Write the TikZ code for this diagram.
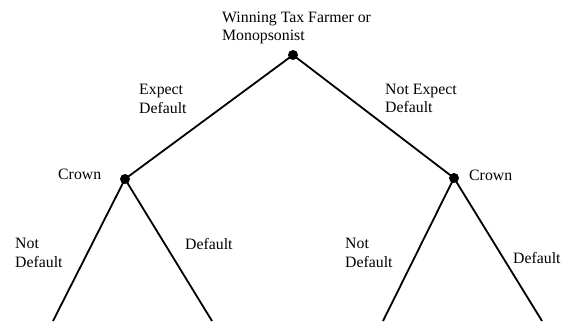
\documentclass[tikz,border=0pt]{standalone}
\usepackage{fontspec}
\setmainfont{Liberation Serif}
\begin{document}
\begin{tikzpicture}[x=1pt,y=-1pt,
  edge/.style={line width=1.8pt},
  dot/.style={circle,fill=black,inner sep=0pt,minimum size=10pt},
  lbl/.style={anchor=north west,inner sep=0pt,align=left,font=\fontsize{15.8}{18.5}\selectfont}]
\useasboundingbox (0,0) rectangle (570,326);
\node[dot] (r) at (293,55) {};
\node[dot] (a) at (125,179) {};
\node[dot] (b) at (454,178) {};
\coordinate (a1) at (53,321);
\coordinate (a2) at (212,321);
\coordinate (b1) at (383,321);
\coordinate (b2) at (542,321);
\draw[edge] (r.center) -- (a.center);
\draw[edge] (r.center) -- (b.center);
\draw[edge] (a.center) -- (a1);
\draw[edge] (a.center) -- (a2);
\draw[edge] (b.center) -- (b1);
\draw[edge] (b.center) -- (b2);
\node[lbl] (t0) at (222,11.5) {Winning Tax Farmer or\\Monopsonist};
\node[lbl] (t1) at (139,84) {Expect\\Default};
\node[lbl] (t2) at (385,83.5) {Not Expect\\Default};
\node[lbl] (t3) at (58,169) {Crown};
\node[lbl] (t4) at (469,170) {Crown};
\node[lbl] (t5) at (15,238) {Not\\Default};
\node[lbl] (t6) at (185,238) {Default};
\node[lbl] (t7) at (345,238) {Not\\Default};
\node[lbl] (t8) at (513,252.5) {Default};
\end{tikzpicture}
\end{document}
